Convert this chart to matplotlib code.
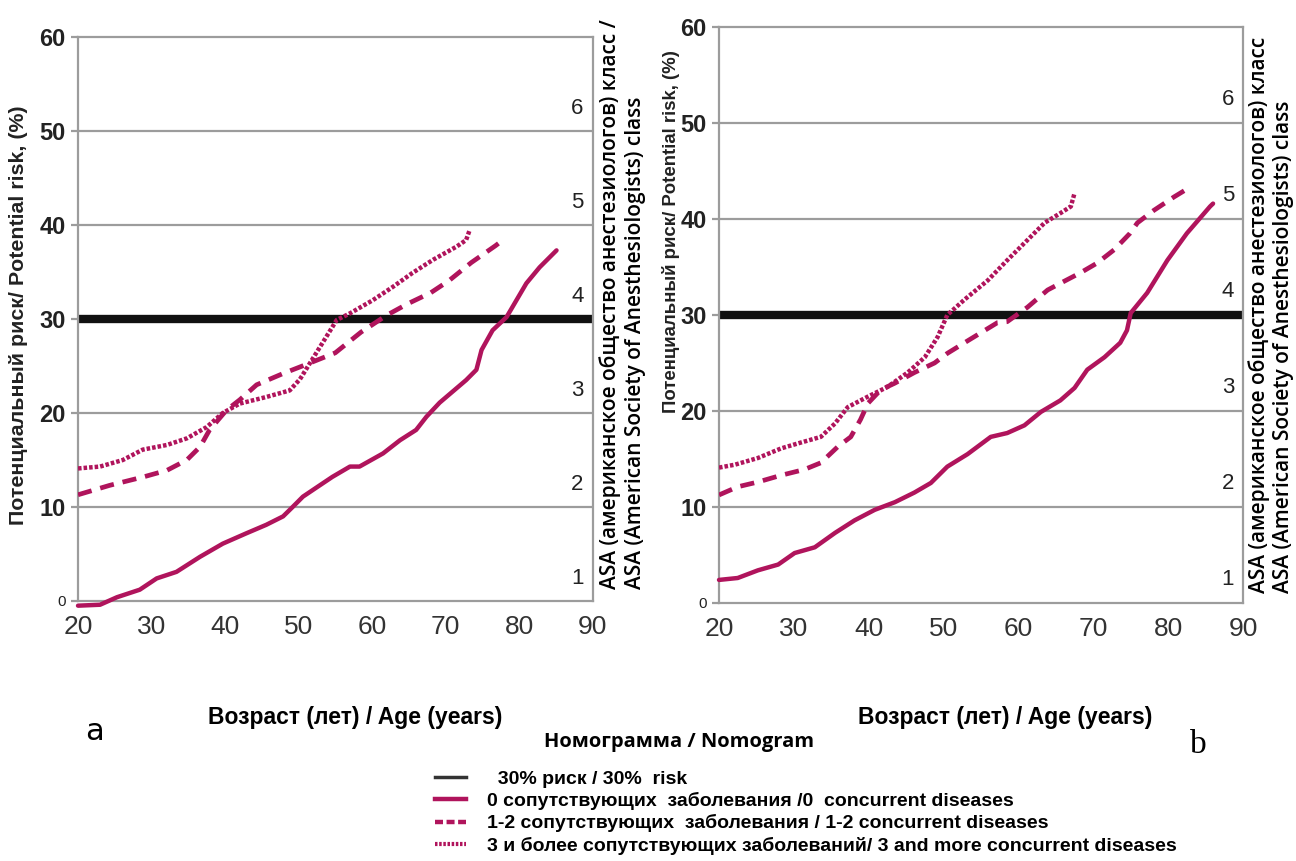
import matplotlib
matplotlib.use('Agg')
import matplotlib.pyplot as plt
from matplotlib.lines import Line2D

plt.rcParams['font.family'] = ['Liberation Sans Narrow', 'Liberation Sans', 'DejaVu Sans']

# panel a
age_a0 = [20, 23, 25.3, 28.4, 30.7, 33.4, 36.6, 39.7, 42.9, 45.6, 47.9, 49.2, 50.6, 52.5, 54.6, 57.0,
          58.3, 61.5, 63.8, 66.0, 67.4, 69.2, 72.8, 74.2, 74.9, 76.4, 78.3, 81.0, 82.8, 85.1]
risk_a0 = [-0.5, -0.4, 0.4, 1.2, 2.4, 3.1, 4.7, 6.1, 7.2, 8.1, 9.0, 10.0, 11.1, 12.1, 13.2, 14.3,
           14.3, 15.7, 17.1, 18.2, 19.6, 21.1, 23.5, 24.6, 26.7, 28.8, 30.2, 33.8, 35.5, 37.3]
age_a12 = [20, 24.3, 28.9, 32.1, 34.8, 36.6, 37.9, 40.2, 42, 44.3, 47.9, 50.2, 55, 58.5, 62,
           64.8, 68, 70.5, 73.5, 76.8, 77.8]
risk_a12 = [11.3, 12.3, 13.2, 13.9, 15.0, 16.4, 18.2, 20.3, 21.4, 23.0, 24.2, 24.9, 26.4, 28.6, 30.4,
            31.6, 32.8, 34.1, 36.0, 37.8, 38.4]
age_a3 = [20, 23, 26.1, 28.8, 32.1, 34.8, 37.5, 39.7, 42, 45.6, 48.8, 50.2, 52.9, 55.2, 57, 60.1,
          62.8, 65.5, 68.3, 71.5, 72.8, 73.3]
risk_a3 = [14.1, 14.3, 15.0, 16.1, 16.6, 17.3, 18.5, 20.0, 21.0, 21.7, 22.4, 23.6, 27.0, 29.9, 30.6, 32.0,
           33.4, 34.9, 36.3, 37.7, 38.4, 39.5]

# panel b
age_b0 = [20, 22.5, 25.2, 27.9, 30.1, 32.8, 35.5, 38.1, 40.8, 43.5, 46.1, 48.3, 50.5, 53.2, 56.3, 58.5,
          60.8, 63, 65.6, 67.5, 69.2, 71.5, 73.6, 74.5, 75, 77.2, 79.9, 82.5, 85.6, 86]
risk_b0 = [2.4, 2.6, 3.4, 4.0, 5.2, 5.8, 7.3, 8.6, 9.7, 10.5, 11.5, 12.5, 14.2, 15.5, 17.3, 17.7,
           18.5, 19.9, 21.1, 22.4, 24.3, 25.6, 27.1, 28.4, 30.2, 32.3, 35.7, 38.5, 41.3, 41.6]
age_b12 = [20, 22.5, 25.2, 28.3, 31.4, 33.6, 35.9, 37.6, 38.9, 39.9, 41.6, 43.5, 46.1, 48.8, 50.5, 53.2,
           57.2, 58.5, 61.2, 63.9, 65.6, 68.3, 70.5, 72.8, 74.9, 75.9, 78.1, 80.8, 82.9]
risk_b12 = [11.25, 12.1, 12.6, 13.3, 13.9, 14.6, 16.3, 17.3, 19.1, 20.8, 22.2, 22.9, 24.0, 25.0, 26.0, 27.3,
            29.2, 29.3, 30.8, 32.6, 33.3, 34.4, 35.4, 36.8, 38.5, 39.6, 40.9, 42.3, 43.3]
age_b3 = [20, 22.1, 25.2, 28.3, 30.9, 33.6, 35.5, 37.2, 39.9, 42.5, 45.2, 47.5, 49.2, 50.5, 52.8, 55.9,
          58.5, 61.2, 63.5, 65.6, 67, 67.5]
risk_b3 = [14.1, 14.4, 15.1, 16.1, 16.7, 17.3, 18.7, 20.4, 21.5, 22.5, 24.0, 25.6, 27.7, 30.0, 31.6, 33.6,
           35.7, 37.8, 39.6, 40.6, 41.3, 42.7]

risk_line = 30
asa_classes = [1, 2, 3, 4, 5, 6]
x_ticks = [20, 30, 40, 50, 60, 70, 80, 90]
y_ticks = [0, 10, 20, 30, 40, 50, 60]

crimson = '#B0145C'
grey = '#9C9C9C'

fig = plt.figure(figsize=(12.96, 8.61), dpi=100)
ax_a = fig.add_axes([0.0602, 0.302, 0.397, 0.655])
ax_b = fig.add_axes([0.5548, 0.2997, 0.4043, 0.669])

# axes, series, asa suffix, ylabel pos, ylabel size, xlabel pos, asa label x, asa label bottom
panels = [
    (ax_a, (age_a0, risk_a0), (age_a12, risk_a12), (age_a3, risk_a3), ' /',
     (-0.097, 0.507), 15.4, (0.538, -0.186), (0.035, 0.084), 0.022),
    (ax_b, (age_b0, risk_b0), (age_b12, risk_b12), (age_b3, risk_b3), '',
     (-0.074, 0.644), 13.4, (0.546, -0.179), (0.030, 0.078), 0.018),
]

for ax, s0, s12, s3, suffix, ylc, yls, xlc, asx, asy in panels:
    ax.set_xlim(20, 90)
    ax.set_ylim(0, 60)
    for y in y_ticks[1:-1]:
        if y != risk_line:
            ax.axhline(y, color=grey, lw=1.6, zorder=1)
    ax.axhline(risk_line, color='#111111', lw=6, zorder=2)
    ax.plot(*s0, color=crimson, lw=3.2, zorder=3, solid_capstyle='round', clip_on=False)
    ax.plot(*s12, color=crimson, lw=3.4, dashes=(3.0, 1.9), zorder=3)
    ax.plot(*s3, color=crimson, lw=3.2, dashes=(0.8, 0.45), zorder=3)
    for sp in ax.spines.values():
        sp.set_color(grey)
        sp.set_linewidth(1.6)
    ax.set_xticks(x_ticks)
    ax.set_yticks(y_ticks)
    ax.tick_params(axis='x', length=0, pad=10, labelsize=19, labelcolor='#333333')
    ax.tick_params(axis='y', length=5, color=grey, width=1.6, pad=4)
    ax.set_yticklabels(['0'] + [str(v) for v in y_ticks[1:]], fontsize=17, fontweight='bold', color='#222222')
    ax.get_yticklabels()[0].set_fontsize(11)
    ax.get_yticklabels()[0].set_fontweight('normal')
    for i, c in enumerate(asa_classes):
        ax.text(88.8, y_ticks[i] + 2.4, str(c), ha='right', va='center', fontsize=16, color='#222222')
    ax.set_xlabel('Возраст (лет) / Age (years)', fontsize=16.5, fontweight='bold',
                  family=['Liberation Sans', 'DejaVu Sans'])
    ax.xaxis.set_label_coords(*xlc)
    ax.set_ylabel('Потенциальный риск/ Potential risk, (%)', fontsize=yls, fontweight='bold',
                  family=['Liberation Sans', 'DejaVu Sans'], color='#222222')
    ax.yaxis.set_label_coords(*ylc)
    ax.text(1 + asx[0], asy, 'ASA (американское общество анестезиологов) класс' + suffix,
            transform=ax.transAxes, rotation=90, ha='center', va='bottom', fontsize=15,
            fontweight='semibold', family=['Open Sans', 'DejaVu Sans'])
    ax.text(1 + asx[1], asy, 'ASA (American Society of Anesthesiologists) class',
            transform=ax.transAxes, rotation=90, ha='center', va='bottom', fontsize=15,
            fontweight='semibold', family=['Open Sans', 'DejaVu Sans'])

fig.text(0.066, 0.14, 'a', fontsize=22, family=['DejaVu Sans'])
fig.text(0.918, 0.125, 'b', fontsize=24, family=['Liberation Serif'])

fig.text(0.524, 0.138, 'Номограмма / Nomogram', ha='center', va='center', fontsize=14.5,
         fontweight='bold', family=['Open Sans', 'DejaVu Sans'])

handles = [
    Line2D([], [], color='#333333', lw=2.5),
    Line2D([], [], color=crimson, lw=3.2),
    Line2D([], [], color=crimson, lw=3.2, dashes=(1.8, 0.8)),
    Line2D([], [], color=crimson, lw=3.0, dashes=(0.6, 0.4)),
]
labels = [
    '  30% риск / 30%  risk',
    '0 сопутствующих  заболевания /0  concurrent diseases',
    '1-2 сопутствующих  заболевания / 1-2 concurrent diseases',
    '3 и более сопутствующих заболеваний/ 3 and more concurrent diseases',
]
fig.legend(handles, labels, loc='upper left', bbox_to_anchor=(0.322, 0.126), frameon=False,
           handlelength=1.6, handletextpad=1.1, labelspacing=0.22,
           prop={'size': 14, 'weight': 'bold'})

fig.savefig('out.png', dpi=100)
